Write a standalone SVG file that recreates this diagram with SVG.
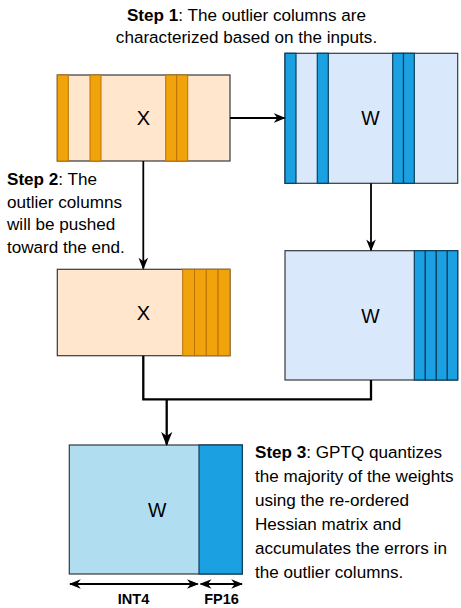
<svg xmlns="http://www.w3.org/2000/svg" width="461" height="608" viewBox="0 0 461 608">
<defs>
<style>
text{font-family:"Liberation Sans",Arial,sans-serif;fill:#000}
.note{font-size:17.1px}
.lbl{font-size:20px;text-anchor:middle}
.bd{font-weight:bold}
.xbox{fill:#FFE6CC;stroke:#36393d;stroke-width:1.2}
.ocol{fill:#F0A30A;stroke:#BD7000;stroke-width:1}
.wbox{fill:#DAE8FC;stroke:#36393d;stroke-width:1.2}
.bcol{fill:#1BA1E2;stroke:#0B3F5E;stroke-width:1.2}
.wq{fill:#B1DDF0;stroke:#36393d;stroke-width:1.2}
.con{fill:none;stroke:#000;stroke-width:1.8}
.con2{fill:none;stroke:#000;stroke-width:2.3}
.dim{font-size:14.5px;font-weight:bold;text-anchor:middle}
</style>
<marker id="ah2" viewBox="0 0 10 10" refX="9" refY="5" markerWidth="12" markerHeight="12" orient="auto-start-reverse" markerUnits="userSpaceOnUse">
<path d="M0,1 L10,5 L0,9 L3,5 Z" fill="#000"/>
</marker>
<marker id="ah3" viewBox="0 0 10 10" refX="9" refY="5" markerWidth="14" markerHeight="14" orient="auto-start-reverse" markerUnits="userSpaceOnUse">
<path d="M0,1 L10,5 L0,9 L3,5 Z" fill="#000"/>
</marker>
</defs>
<rect width="461" height="608" fill="#fff"/>

<g id="step1">
<text class="note" x="246.5" y="20.7" text-anchor="middle"><tspan class="bd">Step 1</tspan>: The outlier columns are</text>
<text class="note" x="246.5" y="42.7" text-anchor="middle">characterized based on the inputs.</text>
</g>

<g id="x1">
<rect class="xbox" x="57.3" y="75" width="172.7" height="86"/>
<rect class="ocol" x="57.3" y="75" width="11" height="86"/>
<rect class="ocol" x="90" y="75" width="11" height="86"/>
<rect class="ocol" x="165.7" y="75" width="11" height="86"/>
<rect class="ocol" x="176.7" y="75" width="11" height="86"/>
<text class="lbl" x="143.3" y="125">X</text>
</g>

<g id="w1">
<rect class="wbox" x="285" y="53.3" width="172.7" height="130"/>
<rect class="bcol" x="285" y="53.3" width="11" height="130"/>
<rect class="bcol" x="317.3" y="53.3" width="11" height="130"/>
<rect class="bcol" x="392.7" y="53.3" width="10.8" height="130"/>
<rect class="bcol" x="403.5" y="53.3" width="10.8" height="130"/>
<text class="lbl" x="370.5" y="124.5" style="font-size:19.5px">W</text>
</g>

<g id="step2">
<text class="note" x="7" y="185"><tspan class="bd">Step 2</tspan>: The</text>
<text class="note" x="7" y="207.5">outlier columns</text>
<text class="note" x="7" y="230.2">will be pushed</text>
<text class="note" x="7" y="253">toward the end.</text>
</g>

<g id="x2">
<rect class="xbox" x="57.3" y="269.3" width="172.7" height="86.4"/>
<rect class="ocol" x="182.7" y="269.3" width="11.8" height="86.4"/>
<rect class="ocol" x="194.5" y="269.3" width="11.8" height="86.4"/>
<rect class="ocol" x="206.3" y="269.3" width="11.8" height="86.4"/>
<rect class="ocol" x="218.1" y="269.3" width="11.9" height="86.4"/>
<text class="lbl" x="143.3" y="320">X</text>
</g>

<g id="w2">
<rect class="wbox" x="285" y="250.7" width="172.7" height="129.3"/>
<rect class="bcol" x="414.3" y="250.7" width="11" height="129.3"/>
<rect class="bcol" x="425.3" y="250.7" width="11" height="129.3"/>
<rect class="bcol" x="436.3" y="250.7" width="11" height="129.3"/>
<rect class="bcol" x="447.3" y="250.7" width="10.4" height="129.3"/>
<text class="lbl" x="370.5" y="323" style="font-size:19.5px">W</text>
</g>

<g id="w3">
<rect class="wq" x="69.3" y="445" width="173" height="129"/>
<rect class="bcol" x="199" y="445" width="43.3" height="129"/>
<text class="lbl" x="157.3" y="517" style="font-size:19.5px">W</text>
</g>

<g id="step3">
<text class="note" x="255" y="458.3"><tspan class="bd">Step 3</tspan>: GPTQ quantizes</text>
<text class="note" x="255" y="482.4">the majority of the weights</text>
<text class="note" x="255" y="506.4">using the re-ordered</text>
<text class="note" x="255" y="530.4">Hessian matrix and</text>
<text class="note" x="255" y="554.4">accumulates the errors in</text>
<text class="note" x="255" y="578.4">the outlier columns.</text>
</g>

<g id="dims">
<text class="dim" x="133.5" y="603.5">INT4</text>
<text class="dim" x="221.5" y="603.5">FP16</text>
</g>

<g id="connectors">
<line class="con" x1="230" y1="118" x2="284.5" y2="118" marker-end="url(#ah2)"/>
<line class="con" x1="143.3" y1="161" x2="143.3" y2="268.5" marker-end="url(#ah2)"/>
<line class="con" x1="371" y1="183.3" x2="371" y2="250.2" marker-end="url(#ah2)"/>
<polyline class="con2" points="143.3,355.7 143.3,399.3 371,399.3 371,380"/>
<line class="con2" x1="166.7" y1="399.3" x2="166.7" y2="444.5" marker-end="url(#ah3)"/>
<line class="con" x1="70" y1="584" x2="197.7" y2="584" marker-start="url(#ah2)" marker-end="url(#ah2)"/>
<line class="con" x1="200.7" y1="584" x2="242" y2="584" marker-start="url(#ah2)" marker-end="url(#ah2)"/>
</g>
</svg>
